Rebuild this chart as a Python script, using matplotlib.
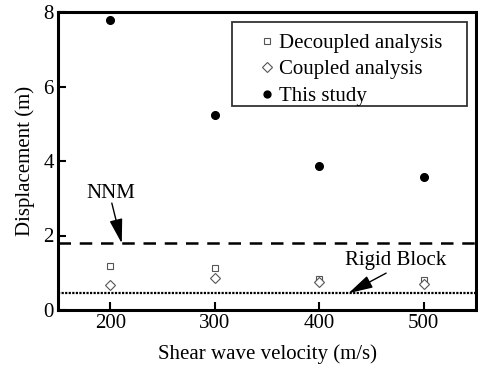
import matplotlib
matplotlib.use("Agg")
import matplotlib.pyplot as plt
from matplotlib.patches import Rectangle

plt.rcParams['font.family'] = ['Liberation Serif', 'DejaVu Serif']

velocity = [200, 300, 400, 500]
decoupled = [1.19, 1.12, 0.82, 0.80]
coupled = [0.67, 0.85, 0.76, 0.70]
this_study = [7.79, 5.23, 3.87, 3.57]
nnm_level = 1.79
rigid_level = 0.45
xticks = [200, 300, 400, 500]
yticks = [0, 2, 4, 6, 8]

FS = 15

fig = plt.figure(figsize=(4.78, 3.67), dpi=100)
ax = fig.add_axes([58/478, 1 - 310/367, (476-58)/478, (310-12)/367])

ax.plot(velocity, decoupled, linestyle='none', marker='s', markersize=5,
        markerfacecolor='white', markeredgecolor='#555555', markeredgewidth=0.8,
        label='Decoupled analysis', zorder=3)
ax.plot(velocity, coupled, linestyle='none', marker='D', markersize=5.5,
        markerfacecolor='white', markeredgecolor='#555555', markeredgewidth=0.8,
        label='Coupled analysis', zorder=3)
ax.plot(velocity, this_study, linestyle='none', marker='o', markersize=5.5,
        markerfacecolor='black', markeredgecolor='black',
        label='This study', zorder=3)

ax.axhline(nnm_level, color='black', linestyle=(0, (5, 3.5)), linewidth=1.8, zorder=2)
ax.axhline(rigid_level, color='black', linestyle=(0, (1, 0.6)), linewidth=1.6, zorder=2)

arrow_style = dict(arrowstyle='-|>,head_length=1.5,head_width=0.4', mutation_scale=10,
                   color='black', lw=1.0, shrinkA=0, shrinkB=0)
ax.text(201, 3.14, 'NNM', ha='center', va='center', fontsize=FS)
ax.annotate('', xy=(211, nnm_level), xytext=(201.5, 2.87), arrowprops=arrow_style)
ax.text(473, 1.34, 'Rigid Block', ha='center', va='center', fontsize=FS)
ax.annotate('', xy=(428, rigid_level), xytext=(464, 0.99), arrowprops=arrow_style)

ax.set_xlim(150, 550)
ax.set_ylim(0, 8)
ax.set_xticks(xticks)
ax.set_yticks(yticks)
ax.tick_params(direction='in', length=6, width=1.5, labelsize=FS, pad=3)
for s in ax.spines.values():
    s.set_linewidth(2.2)

ax.set_xlabel('Shear wave velocity (m/s)', fontsize=FS, labelpad=8)
ax.set_ylabel('Displacement (m)', fontsize=FS, labelpad=6)

leg = ax.legend(loc='upper left', bbox_to_anchor=(0.488, 0.928), fontsize=FS,
                frameon=False, handlelength=0.5, handletextpad=0.3, borderpad=0.0,
                labelspacing=0.33, borderaxespad=0.0, markerscale=0.9)

frame = Rectangle((0.416, 0.685), 0.978 - 0.416, 0.966 - 0.685, transform=ax.transAxes,
                  facecolor='white', edgecolor='#333333', linewidth=1.3, zorder=4)
ax.add_patch(frame)
leg.set_zorder(5)

fig.savefig('out.png', dpi=100)
